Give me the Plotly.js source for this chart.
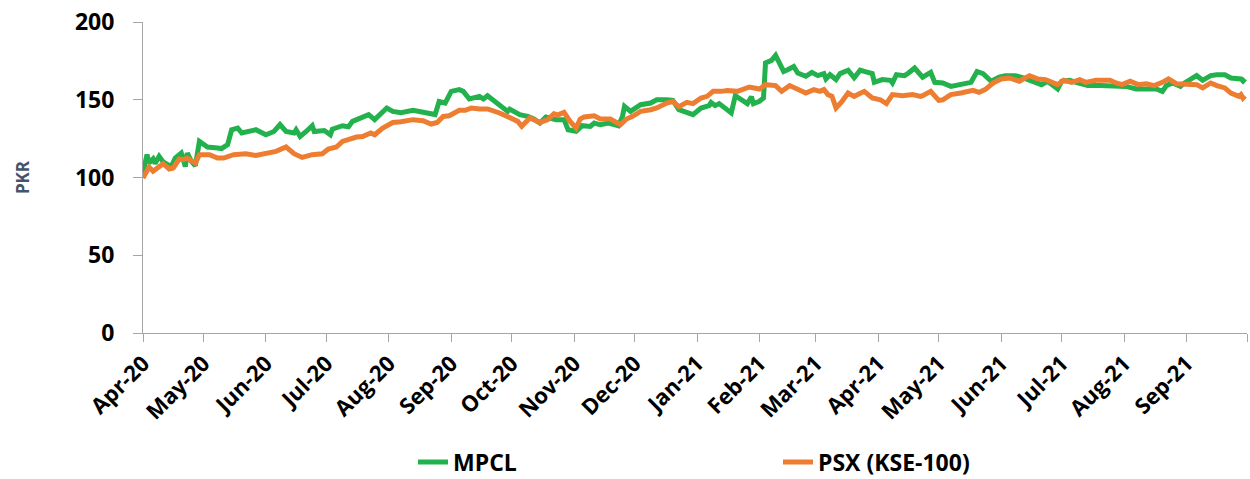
<!DOCTYPE html>
<html>
<head>
<meta charset="utf-8">
<script src="https://cdn.plot.ly/plotly-3.0.1.min.js"></script>
<style>
  html, body { margin: 0; padding: 0; background: #ffffff; }
  #chart { width: 1250px; height: 479px; }
</style>
</head>
<body>
<div id="chart"></div>
<script>
const seriesNames = ['MPCL', 'PSX (KSE-100)'];

const monthTicks = ['2020-04-01','2020-05-01','2020-06-01','2020-07-01','2020-08-01','2020-09-01',
  '2020-10-01','2020-11-01','2020-12-01','2021-01-01','2021-02-01','2021-03-01','2021-04-01',
  '2021-05-01','2021-06-01','2021-07-01','2021-08-01','2021-09-01','2021-10-01'];
const monthLabels = ['Apr-20','May-20','Jun-20','Jul-20','Aug-20','Sep-20','Oct-20','Nov-20','Dec-20',
  'Jan-21','Feb-21','Mar-21','Apr-21','May-21','Jun-21','Jul-21','Aug-21','Sep-21',''];

const yTicks = [0, 50, 100, 150, 200];

const mpclDates = ['2020-04-01','2020-04-03','2020-04-04','2020-04-06','2020-04-07','2020-04-09','2020-04-11',
  '2020-04-14','2020-04-15','2020-04-17','2020-04-20','2020-04-22','2020-04-23','2020-04-25','2020-04-27',
  '2020-04-29','2020-05-03','2020-05-08','2020-05-10','2020-05-13','2020-05-15','2020-05-18','2020-05-20',
  '2020-05-27','2020-06-01','2020-06-05','2020-06-08','2020-06-11','2020-06-15','2020-06-16','2020-06-18',
  '2020-06-21','2020-06-24','2020-06-25','2020-06-30','2020-07-03','2020-07-04','2020-07-09','2020-07-12',
  '2020-07-14','2020-07-22','2020-07-25','2020-07-31','2020-08-03','2020-08-07','2020-08-13','2020-08-21',
  '2020-08-24','2020-08-26','2020-08-29','2020-09-01','2020-09-05','2020-09-07','2020-09-10','2020-09-15',
  '2020-09-17','2020-09-19','2020-09-23','2020-09-25','2020-09-29','2020-09-30','2020-10-05','2020-10-09',
  '2020-10-12','2020-10-15','2020-10-18','2020-10-23','2020-10-27','2020-10-29','2020-11-02','2020-11-05',
  '2020-11-09','2020-11-11','2020-11-14','2020-11-18','2020-11-23','2020-11-25','2020-11-26','2020-11-29',
  '2020-12-04','2020-12-09','2020-12-12','2020-12-17','2020-12-20','2020-12-23','2020-12-27','2020-12-30',
  '2021-01-03','2021-01-07','2021-01-08','2021-01-10','2021-01-12','2021-01-16','2021-01-18','2021-01-20',
  '2021-01-23','2021-01-26','2021-01-28','2021-01-29','2021-02-01','2021-02-03','2021-02-04','2021-02-07',
  '2021-02-09','2021-02-13','2021-02-15','2021-02-18','2021-02-20','2021-02-24','2021-02-27','2021-03-02',
  '2021-03-05','2021-03-06','2021-03-08','2021-03-11','2021-03-13','2021-03-17','2021-03-20','2021-03-23',
  '2021-03-25','2021-03-29','2021-03-30','2021-04-03','2021-04-07','2021-04-08','2021-04-10','2021-04-14',
  '2021-04-16','2021-04-19','2021-04-23','2021-04-27','2021-04-29','2021-05-03','2021-05-07','2021-05-12',
  '2021-05-17','2021-05-20','2021-05-23','2021-05-27','2021-05-31','2021-06-03','2021-06-06','2021-06-08',
  '2021-06-12','2021-06-17','2021-06-21','2021-06-24','2021-06-29','2021-07-01','2021-07-05','2021-07-09',
  '2021-07-14','2021-07-20','2021-07-27','2021-08-02','2021-08-07','2021-08-12','2021-08-17','2021-08-20',
  '2021-08-22','2021-08-25','2021-08-29','2021-08-31','2021-09-03','2021-09-06','2021-09-09','2021-09-13',
  '2021-09-16','2021-09-20','2021-09-23','2021-09-28','2021-09-29','2021-09-30'];
const mpclValues = [103,114.7,109.3,112,109,113.6,110,
  107.6,107,112.5,115.7,107,115.7,110.4,107.6,
  123.2,119.6,119,118.6,121.1,130.7,131.8,128.6,
  130.7,127.5,129.6,134,129.6,128.6,130.7,126.4,
  129.6,133.3,129.6,130.2,127.5,131.1,133.3,132.6,
  136.1,140.4,137.2,144.7,142.5,141.7,143.2,141.5,
  140.5,148.9,147.9,155.4,156.5,155.4,150.5,152.2,
  150.5,152.6,148.9,146.8,142.5,144,140.4,139.3,
  137.6,135,138.9,137.2,137.2,130.7,129.7,133.3,
  132.8,135,133.9,135,133.3,139.3,145.7,142.5,
  146.8,147.9,150,150,149.6,143.6,142.1,140.4,
  144.7,146.2,148.3,146.2,147.5,143.6,141.5,152.6,
  150,147.5,151.9,147.5,149,151.1,173.6,175.3,
  178.5,168.2,169.3,171.4,167.2,165.1,167.6,165.5,
  166.8,163.4,166.1,163,166.8,169,164.1,169,
  168.2,166.8,161.2,163,162.5,160.8,166.1,165.5,
  167.2,170.4,164.5,167.6,161.2,160.8,158.6,159.7,
  161.2,168.2,166.8,161.9,164.5,165.5,165.1,165.5,
  164,161.2,159.7,161.9,156.9,161.9,162.5,160.8,
  159.1,159.1,158.6,158.6,156.9,156.9,156.9,155.4,
  159.1,160.8,158.6,160.8,162.9,165.5,162.5,165.5,
  166.1,166.1,164,163.4,162,163.5];

const psxDates = ['2020-04-01','2020-04-04','2020-04-06','2020-04-08','2020-04-11','2020-04-14','2020-04-16',
  '2020-04-19','2020-04-21','2020-04-23','2020-04-27','2020-04-29','2020-05-04','2020-05-08','2020-05-11',
  '2020-05-16','2020-05-22','2020-05-27','2020-06-03','2020-06-06','2020-06-11','2020-06-15','2020-06-19',
  '2020-06-24','2020-06-29','2020-07-02','2020-07-06','2020-07-09','2020-07-16','2020-07-19','2020-07-23',
  '2020-07-25','2020-07-29','2020-08-03','2020-08-07','2020-08-13','2020-08-18','2020-08-22','2020-08-25',
  '2020-08-28','2020-08-31','2020-09-05','2020-09-08','2020-09-11','2020-09-15','2020-09-19','2020-09-25',
  '2020-09-30','2020-10-04','2020-10-06','2020-10-10','2020-10-15','2020-10-19','2020-10-22','2020-10-24',
  '2020-10-27','2020-10-30','2020-11-02','2020-11-04','2020-11-06','2020-11-11','2020-11-14','2020-11-19',
  '2020-11-24','2020-11-27','2020-11-30','2020-12-04','2020-12-09','2020-12-12','2020-12-17','2020-12-20',
  '2020-12-23','2020-12-27','2020-12-30','2021-01-03','2021-01-06','2021-01-09','2021-01-13','2021-01-16',
  '2021-01-21','2021-01-24','2021-01-27','2021-02-01','2021-02-04','2021-02-09','2021-02-12','2021-02-16',
  '2021-02-20','2021-02-24','2021-02-28','2021-03-03','2021-03-05','2021-03-07','2021-03-09','2021-03-11',
  '2021-03-14','2021-03-17','2021-03-20','2021-03-25','2021-03-29','2021-04-02','2021-04-05','2021-04-08',
  '2021-04-13','2021-04-18','2021-04-22','2021-04-23','2021-04-27','2021-05-01','2021-05-03','2021-05-07',
  '2021-05-12','2021-05-18','2021-05-21','2021-05-24','2021-05-28','2021-06-01','2021-06-05','2021-06-10',
  '2021-06-15','2021-06-19','2021-06-23','2021-06-29','2021-07-02','2021-07-06','2021-07-10','2021-07-13',
  '2021-07-18','2021-07-25','2021-07-28','2021-07-31','2021-08-04','2021-08-08','2021-08-12','2021-08-16',
  '2021-08-20','2021-08-23','2021-08-27','2021-09-01','2021-09-06','2021-09-09','2021-09-13','2021-09-16',
  '2021-09-20','2021-09-23','2021-09-27','2021-09-28','2021-09-29','2021-09-30'];
const psxValues = [99.7,106.7,104,106.1,108.9,105.5,106.1,
  111.9,111.5,112.5,109.3,114.7,114.7,112.5,112.5,
  114.7,115.3,114.1,116.2,116.8,119.6,115.3,112.9,
  114.7,115.3,118.3,119.6,123.2,126,126.4,128.6,
  127.5,131.8,135.4,135.8,137.2,136.5,134.4,135.4,
  139.3,139.7,143.2,143.2,144.7,144.1,144.1,141.5,
  138.3,136.1,132.9,138.3,135.4,137.2,141,140.3,
  141.9,136.1,131.8,137.6,138.9,139.7,137.6,137.6,
  134,137.6,139.3,142.5,143.6,144.7,147.9,149,
  145.5,148.3,147.5,151.1,152.2,155.4,155.4,156,
  155.4,156.5,158.2,156.9,159.7,159.1,155.4,159.1,
  156.9,154.3,156.5,155.4,156.5,153.3,152.2,144.7,
  149,154.3,152.2,155.4,151.1,150,147.5,153.3,
  152.6,153.3,152.2,152.6,155.4,149.6,150,153.3,
  154.3,156.1,154.8,156.5,160.8,163.4,164,161.9,
  165.5,163.4,162.9,159.7,162.5,161.2,162.9,161.2,
  162.5,162.5,160.8,159.7,161.9,159.7,160.3,159.1,
  161.2,163.4,160.3,159.7,159.7,157.6,160.8,159.1,
  157.6,154.3,152.2,153.3,151.1,152.5];

const textFont = 'Open Sans, Lato, sans-serif';
const axisGrey = '#a6a6a6';

const traces = [
  { x: mpclDates, y: mpclValues, name: seriesNames[0], type: 'scatter', mode: 'lines',
    line: { color: '#22b14c', width: 5, shape: 'linear' } },
  { x: psxDates, y: psxValues, name: seriesNames[1], type: 'scatter', mode: 'lines',
    line: { color: '#ed7d31', width: 5, shape: 'linear' } }
];

const layout = {
  width: 1250, height: 479,
  margin: { l: 143, r: 3, t: 22, b: 146 },
  paper_bgcolor: '#ffffff', plot_bgcolor: '#ffffff',
  showlegend: true,
  legend: {
    orientation: 'h', xref: 'container', yref: 'container',
    x: 413 / 1250, xanchor: 'left', y: (479 - 462) / 479, yanchor: 'middle',
    entrywidth: 320, entrywidthmode: 'pixels', tracegroupgap: 0,
    font: { family: textFont, size: 23, color: '#000000', weight: 700 },
    bgcolor: 'rgba(0,0,0,0)'
  },
  xaxis: {
    type: 'date', range: ['2020-04-01', '2021-10-01'], automargin: false,
    tickmode: 'array', tickvals: monthTicks, ticktext: monthLabels,
    tickangle: -45, ticks: 'outside', ticklen: 8, tickwidth: 1, tickcolor: axisGrey,
    showline: true, linecolor: axisGrey, linewidth: 1, showgrid: false, zeroline: false,
    tickfont: { family: textFont, size: 22, color: '#000000', weight: 700 }
  },
  yaxis: {
    range: [0, 200], tickmode: 'array', tickvals: yTicks, automargin: false,
    ticks: 'outside', ticklen: 9, tickwidth: 1, tickcolor: axisGrey,
    showline: true, linecolor: axisGrey, linewidth: 1, showgrid: false, zeroline: false,
    ticklabelstandoff: 14,
    tickfont: { family: textFont, size: 23, color: '#000000', weight: 700 },
    title: { text: 'PKR', standoff: 40, font: { family: textFont, size: 17, color: '#44546a', weight: 700 } }
  }
};

Plotly.newPlot('chart', traces, layout, { displayModeBar: false, staticPlot: true });
</script>
</body>
</html>
